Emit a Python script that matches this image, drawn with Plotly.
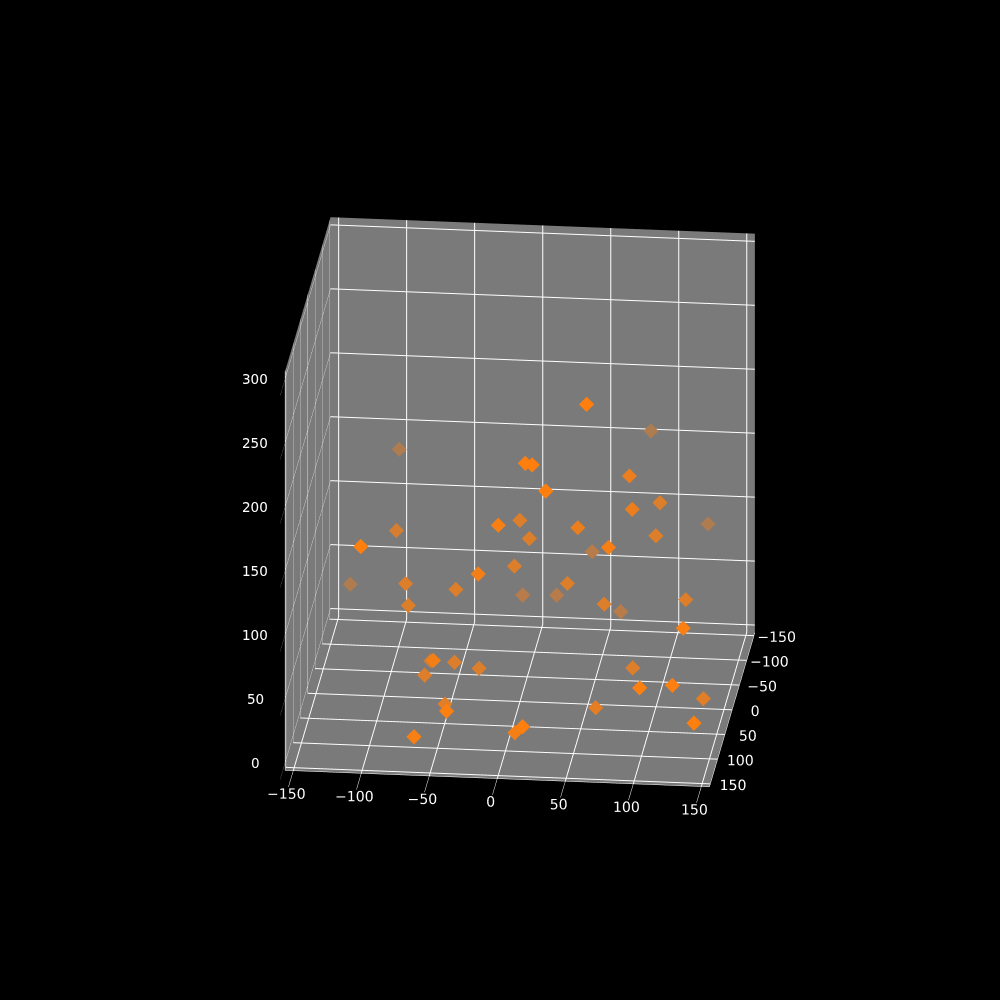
import plotly.graph_objects as go

# values (y is judged from how faded the marker is)
xs = [61, 85, -100, 16, 21, 31, 87, 105, 89, 127, -91, -6, 2, 49, 9, 102,
      -105, 44, 75, -136, -82, -45, -22, -2, -7, 18, 37, 64, 65, 124, -80, 131,
      -68, -55, -46, -28, -68, 85, 99, 123, 138, 60, -52, -43, -68, 5, 14, 140]
ys = [114, -104, -104, 114, 114, 114, 62, 21, 62, -104, 0, 94, 21, 62, 21, 21,
      114, -83, 94, -104, 21, 21, 83, 21, -83, -83, 21, 21, -83, 21, 21, 104,
      -21, 83, 21, 21, 21, 21, 104, 104, 31, 42, 31, 104, 94, 83, 114, 114]
zs = [273, 169, 147, 225, 224, 204, 198, 162, 172, 98, 124, 168, 144, 156, 130, 136,
      155, 81, 154, 40, 91, 88, 125, 108, 45, 46, 96, 81, 35, 87, 74, 97,
      15, 56, 31, 27, 20, 32, 49, 52, 14, 8, 2, 25, 0, 2, 19, 27]

xy_ticks = [-150, -100, -50, 0, 50, 100, 150]
z_ticks = [0, 50, 100, 150, 200, 250, 300]

PANE = (122, 122, 122)
ORANGE = (255, 127, 14)


# depth shading, far points fade into the pane colour
# (real alpha blends too bright in the gl scene)
def shade(y):
    a = 0.4 + 0.6 * (y - min(ys)) / (max(ys) - min(ys))
    r, g, b = [round(a * c + (1 - a) * p) for c, p in zip(ORANGE, PANE)]
    return f"rgb({r},{g},{b})"


fig = go.Figure()

fig.add_trace(go.Scatter3d(x=xs, y=ys, z=zs, mode="markers",
                           marker=dict(symbol="diamond", size=5,
                                       color=[shade(v) for v in ys],
                                       line=dict(width=0))))

tick_font = dict(family="DejaVu Sans", size=13, color="white")
axis_style = dict(title="", showbackground=True, backgroundcolor="rgb(122,122,122)",
                  gridcolor="white", gridwidth=2, showline=True, linecolor="white",
                  linewidth=1, zeroline=False, ticks="outside", showspikes=False,
                  tickangle=0, tickfont=tick_font)

# z labels as annotations, the gl axis can't move them left of the box
z_labels = [dict(x=-156, y=156, z=t, text=str(t), showarrow=False, xshift=-30,
                 font=dict(family="DejaVu Sans", size=13.5, color="white")) for t in z_ticks]

fig.update_layout(
    width=1000, height=1000, showlegend=False,
    paper_bgcolor="black", plot_bgcolor="black",
    margin=dict(l=0, r=0, t=0, b=0),
    scene=dict(
        domain=dict(x=[0.04, 1], y=[0, 0.996]),
        bgcolor="black",
        # gl axes swap these: yaxis ticklen pushes the x labels down, and vice versa
        xaxis=dict(range=[-156, 156], tickvals=xy_ticks, ticklen=5, tickcolor="white", **axis_style),
        yaxis=dict(range=[156, -156], tickvals=xy_ticks, ticklen=45, tickcolor="black", **axis_style),
        zaxis=dict(range=[-6, 306], tickvals=z_ticks, ticklen=6, tickcolor="white",
                   showticklabels=False, **axis_style),
        aspectmode="manual",
        aspectratio=dict(x=0.857, y=0.857, z=0.86),
        camera=dict(projection=dict(type="orthographic"),
                    up=dict(x=0, y=0, z=1),
                    center=dict(x=0, y=0, z=0),
                    eye=dict(x=0.335, y=-3.13, z=1.227)),
        annotations=z_labels,
    ),
)

# page margin off so the figure fills the window
fig.write_html("out.html", config=dict(displayModeBar=False),
               post_script="document.body.style.margin='0';document.body.style.background='black';")
